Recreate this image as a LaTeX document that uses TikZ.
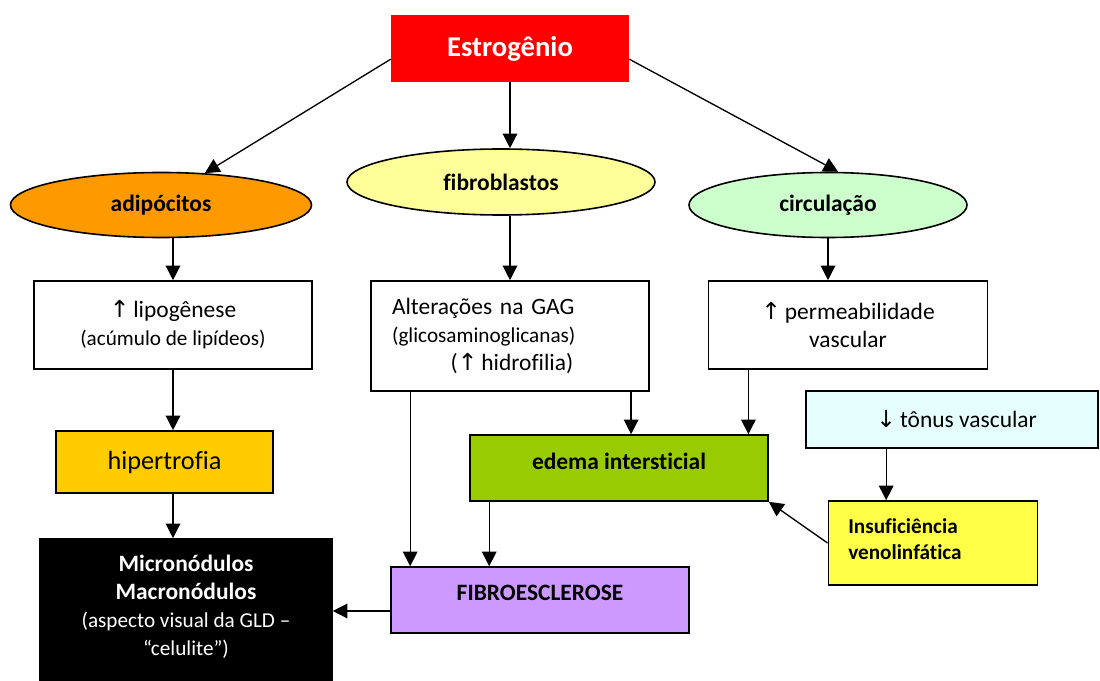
\documentclass[tikz,border=0pt]{standalone}
\usepackage{fontspec}
\setmainfont{Carlito}[Ligatures={NoCommon}]
\newfontfamily\sym{DejaVu Sans}
\usetikzlibrary{arrows.meta,shapes.geometric}
\definecolor{estred}{HTML}{FF0000}
\definecolor{adipor}{HTML}{FF9900}
\definecolor{fibyel}{HTML}{FFFF99}
\definecolor{circgr}{HTML}{CCFFCC}
\definecolor{hipyel}{HTML}{FFCC00}
\definecolor{edemag}{HTML}{99CC00}
\definecolor{fibpur}{HTML}{CC99FF}
\definecolor{insyel}{HTML}{FFFF47}
\definecolor{tonusc}{HTML}{E5FFFF}
\newcommand{\fbig}{\fontsize{17.6}{21}\selectfont}
\newcommand{\fsmall}{\fontsize{15.9}{21}\selectfont}
\tikzset{
  box/.style={draw=black, line width=1.2pt, rectangle, inner sep=0pt, align=center, font=\fbig},
  ell/.style={draw=black, line width=1.2pt, ellipse, inner sep=0pt, font=\fbig\bfseries},
  txt/.style={inner sep=0pt, align=center},
  arr/.style={-{Triangle[length=11pt,width=11pt]}, line width=1pt},
}
\begin{document}
\begin{tikzpicture}[x=0.75pt,y=-0.75pt]
\useasboundingbox (0,0) rectangle (1100,681);
% top
\node[rectangle, fill=estred, minimum width=178.5pt, minimum height=50.25pt, inner sep=0pt,
      text=white, font=\fontsize{21.5}{24}\selectfont\bfseries] (est) at (510,48.5) {Estrogênio};
% ellipses
\node[ell, fill=adipor, minimum width=225.75pt, minimum height=48.75pt] (adip) at (161,205) {adipócitos};
\node[ell, fill=fibyel, minimum width=231pt, minimum height=49.5pt] (fib) at (501,182) {fibroblastos};
\node[ell, fill=circgr, minimum width=208.5pt, minimum height=48.75pt] (circ) at (828,205) {circulação};
% second row
\node[box, fill=white, minimum width=208.5pt, minimum height=66pt] (lipo) at (173,325)
  {{\sym\char"2191}\,lipogênese\\\fsmall(acúmulo de lipídeos)};
\node[box, fill=white, minimum width=208.5pt, minimum height=82.5pt, text width=177pt, align=left] (gag) at (510,336)
  {Alterações na GAG\\{\fsmall(glicosaminoglicanas)}\\\hspace*{44pt}({\sym\char"2191}\,hidrofilia)};
\node[box, fill=white, minimum width=209pt, minimum height=66pt] (perm) at (848,325)
  {{\sym\char"2191}\,permeabilidade\\vascular};
\node[box, fill=tonusc, minimum width=219pt, minimum height=42.75pt] (tonus) at (952,419.5)
  {\hspace*{7pt}{\sym\char"2193}\,tônus vascular};
% third row
\node[box, fill=hipyel, minimum width=162.75pt, minimum height=46.5pt, font=\fontsize{19.7}{24}\selectfont] (hiper) at (164.5,462) {hipertrofia};
\node[box, fill=edemag, minimum width=223.5pt, minimum height=49.5pt] (edema) at (619,468) {};
\node[txt, font=\fbig\bfseries] (edematxt) at (619,461) {edema intersticial};
\node[box, fill=insyel, minimum width=157pt, minimum height=63pt] (insuf) at (933,543) {};
\node[txt, anchor=west, align=left, font=\fontsize{15.9}{19.5}\selectfont\bfseries] (insuftxt) at (848,539) {Insuficiência\\venolinfática};
% bottom
\node[box, fill=black, minimum width=219pt, minimum height=120.75pt] (micro) at (186,619.5) {};
\node[txt, text=white, font=\fbig] (microtxt) at (186,606.5)
  {\textbf{Micronódulos}\\\textbf{Macronódulos}\\\fsmall(aspecto visual da GLD --\\\fsmall``celulite'')};
\node[box, fill=fibpur, minimum width=223.5pt, minimum height=49.5pt] (fibro) at (540,600) {};
\node[txt, font=\fbig\bfseries] (fibrotxt) at (540,593) {FIBROESCLEROSE};
% connectors
\draw[arr] ([yshift=-8pt]est.west) -- (adip.36);
\draw[arr] (est.south) -- (est.south |- fib.north);
\draw[arr] ([yshift=-8pt]est.east) -- (circ.73);
\draw[arr] (lipo.north |- adip.south) -- (lipo.north);
\draw[arr] (gag.north |- fib.south) -- (gag.north);
\draw[arr] (circ.south) -- (circ.south |- perm.north);
\draw[arr] (lipo.south) -- (lipo.south |- hiper.north);
\draw[arr] (lipo.south |- hiper.south) -- (lipo.south |- micro.north);
\draw[arr] ([xshift=30pt]gag.south west) -- ([xshift=30pt]gag.south west |- fibro.north);
\draw[arr] ([xshift=-14pt]gag.south east) -- ([xshift=-14pt]gag.south east |- edema.north);
\draw[arr] ([xshift=30.4pt]perm.south west) -- ([xshift=30.4pt]perm.south west |- edema.north);
\draw[arr] ([xshift=15pt]edema.south west) -- ([xshift=15pt]edema.south west |- fibro.north);
\draw[arr] ([yshift=-8.25pt]fibro.west) -- ([yshift=-8.25pt]fibro.west -| micro.east);
\draw[arr] ([xshift=44pt]insuf.north west |- tonus.south) -- ([xshift=44pt]insuf.north west);
\draw[arr] (insuf.west) -- (edema.south east);
\end{tikzpicture}
\end{document}
